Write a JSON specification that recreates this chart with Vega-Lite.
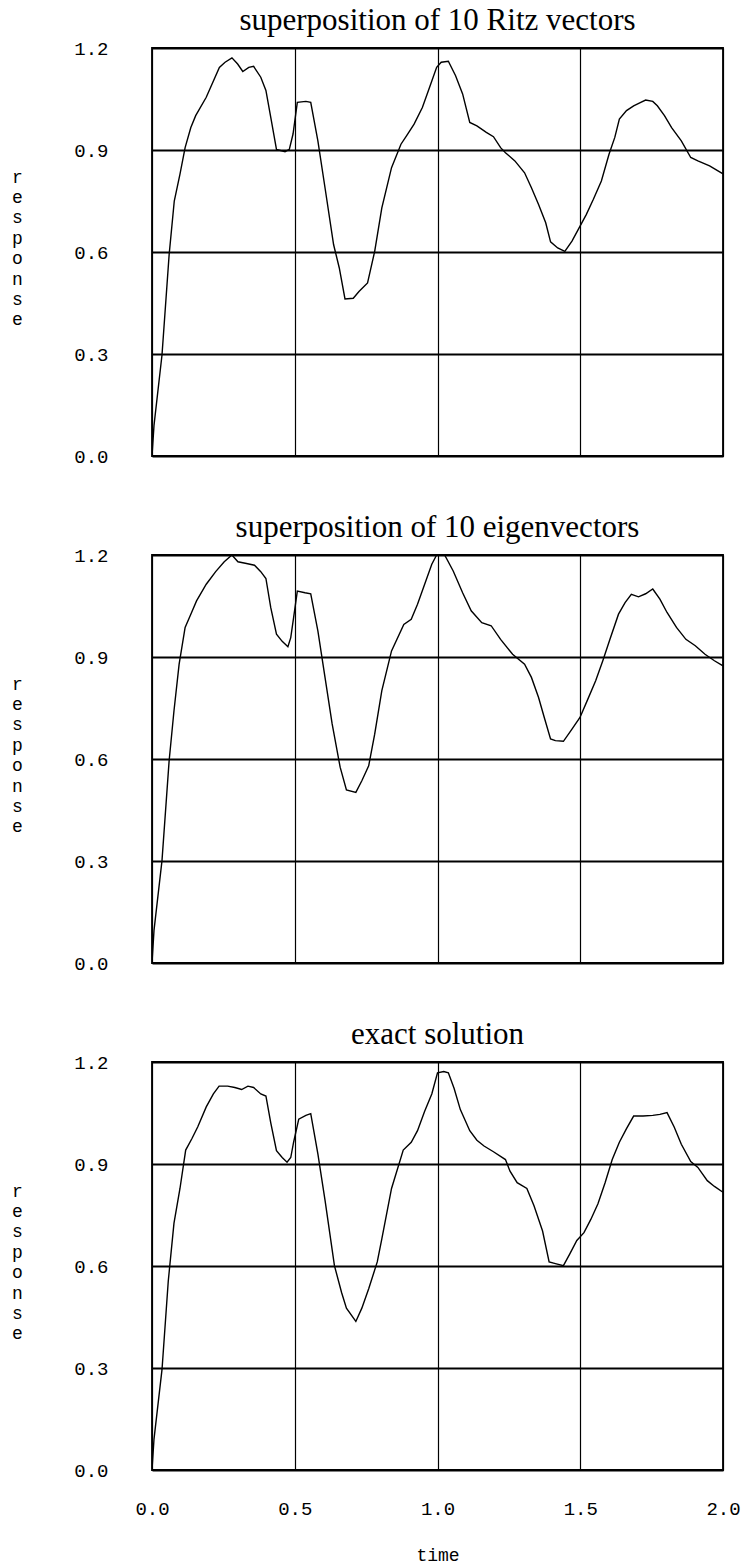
{
  "$schema": "https://vega.github.io/schema/vega-lite/v6.json",
  "padding": {"left": 10, "top": 4, "right": 5, "bottom": 5},
  "background": "white",
  "config": {
    "view": {"stroke": "black", "strokeWidth": 1.8},
    "axis": {
      "labelFont": "Liberation Mono", "labelFontSize": 19, "labelColor": "black",
      "titleFont": "Liberation Mono", "titleFontSize": 18, "titleColor": "black", "titleFontWeight": "normal",
      "ticks": false, "domain": false, "gridColor": "black", "gridOpacity": 1, "labelFlush": false
    },
    "axisY": {"gridWidth": 2, "labelPadding": 44},
    "axisX": {"gridWidth": 1.2, "labelPadding": 29},
    "title": {"font": "Liberation Serif", "fontSize": 31, "fontWeight": "normal", "color": "black", "frame": "group", "offset": 2, "baseline": "alphabetic", "anchor": "middle"},
    "line": {"color": "black", "strokeWidth": 1.4}
  },
  "datasets": {
    "ritz": [
      {"t":0,"v":0},{"t":0.007,"v":0.09},{"t":0.035,"v":0.297},{"t":0.06,"v":0.592},{"t":0.078,"v":0.75},{"t":0.098,"v":0.829},{"t":0.116,"v":0.907},{"t":0.136,"v":0.966},{"t":0.153,"v":1.001},{"t":0.19,"v":1.055},{"t":0.236,"v":1.143},{"t":0.256,"v":1.158},{"t":0.28,"v":1.171},{"t":0.3,"v":1.153},{"t":0.318,"v":1.131},{"t":0.339,"v":1.143},{"t":0.356,"v":1.146},{"t":0.381,"v":1.114},{"t":0.399,"v":1.075},{"t":0.416,"v":0.996},{"t":0.436,"v":0.902},{"t":0.466,"v":0.895},{"t":0.481,"v":0.902},{"t":0.494,"v":0.947},{"t":0.509,"v":1.04},{"t":0.539,"v":1.043},{"t":0.556,"v":1.04},{"t":0.581,"v":0.927},{"t":0.606,"v":0.789},{"t":0.636,"v":0.622},{"t":0.656,"v":0.553},{"t":0.676,"v":0.462},{"t":0.705,"v":0.464},{"t":0.725,"v":0.484},{"t":0.755,"v":0.509},{"t":0.78,"v":0.602},{"t":0.805,"v":0.73},{"t":0.839,"v":0.848},{"t":0.872,"v":0.917},{"t":0.892,"v":0.942},{"t":0.918,"v":0.976},{"t":0.947,"v":1.025},{"t":0.972,"v":1.084},{"t":0.997,"v":1.143},{"t":1.013,"v":1.158},{"t":1.038,"v":1.161},{"t":1.063,"v":1.119},{"t":1.088,"v":1.065},{"t":1.113,"v":0.981},{"t":1.138,"v":0.971},{"t":1.171,"v":0.952},{"t":1.196,"v":0.939},{"t":1.221,"v":0.907},{"t":1.238,"v":0.892},{"t":1.271,"v":0.868},{"t":1.305,"v":0.833},{"t":1.329,"v":0.789},{"t":1.354,"v":0.74},{"t":1.379,"v":0.686},{"t":1.396,"v":0.63},{"t":1.421,"v":0.612},{"t":1.446,"v":0.602},{"t":1.471,"v":0.632},{"t":1.496,"v":0.671},{"t":1.521,"v":0.71},{"t":1.546,"v":0.755},{"t":1.574,"v":0.809},{"t":1.601,"v":0.888},{"t":1.621,"v":0.937},{"t":1.637,"v":0.991},{"t":1.662,"v":1.016},{"t":1.687,"v":1.03},{"t":1.712,"v":1.04},{"t":1.729,"v":1.047},{"t":1.754,"v":1.043},{"t":1.77,"v":1.03},{"t":1.795,"v":1.001},{"t":1.82,"v":0.966},{"t":1.854,"v":0.927},{"t":1.887,"v":0.878},{"t":1.912,"v":0.868},{"t":1.953,"v":0.853},{"t":2.0,"v":0.83}
    ],
    "eig": [
      {"t":0,"v":0},{"t":0.007,"v":0.096},{"t":0.035,"v":0.301},{"t":0.06,"v":0.595},{"t":0.077,"v":0.742},{"t":0.095,"v":0.879},{"t":0.116,"v":0.987},{"t":0.136,"v":1.026},{"t":0.156,"v":1.065},{"t":0.19,"v":1.114},{"t":0.223,"v":1.151},{"t":0.253,"v":1.18},{"t":0.28,"v":1.2},{"t":0.301,"v":1.18},{"t":0.331,"v":1.175},{"t":0.359,"v":1.17},{"t":0.381,"v":1.151},{"t":0.399,"v":1.131},{"t":0.416,"v":1.045},{"t":0.436,"v":0.967},{"t":0.456,"v":0.946},{"t":0.476,"v":0.93},{"t":0.486,"v":0.957},{"t":0.496,"v":1.016},{"t":0.509,"v":1.094},{"t":0.536,"v":1.089},{"t":0.556,"v":1.086},{"t":0.581,"v":0.977},{"t":0.606,"v":0.84},{"t":0.631,"v":0.703},{"t":0.659,"v":0.576},{"t":0.681,"v":0.509},{"t":0.714,"v":0.502},{"t":0.735,"v":0.536},{"t":0.759,"v":0.58},{"t":0.78,"v":0.673},{"t":0.805,"v":0.801},{"t":0.839,"v":0.918},{"t":0.882,"v":0.996},{"t":0.908,"v":1.011},{"t":0.93,"v":1.055},{"t":0.955,"v":1.114},{"t":0.98,"v":1.173},{"t":0.997,"v":1.2},{"t":1.025,"v":1.2},{"t":1.055,"v":1.153},{"t":1.088,"v":1.089},{"t":1.118,"v":1.036},{"t":1.155,"v":1.001},{"t":1.188,"v":0.992},{"t":1.221,"v":0.952},{"t":1.263,"v":0.908},{"t":1.305,"v":0.879},{"t":1.329,"v":0.84},{"t":1.354,"v":0.781},{"t":1.374,"v":0.722},{"t":1.396,"v":0.659},{"t":1.413,"v":0.654},{"t":1.441,"v":0.652},{"t":1.471,"v":0.688},{"t":1.499,"v":0.722},{"t":1.524,"v":0.771},{"t":1.554,"v":0.83},{"t":1.579,"v":0.889},{"t":1.604,"v":0.952},{"t":1.634,"v":1.026},{"t":1.657,"v":1.06},{"t":1.679,"v":1.084},{"t":1.704,"v":1.077},{"t":1.729,"v":1.086},{"t":1.754,"v":1.1},{"t":1.779,"v":1.07},{"t":1.804,"v":1.031},{"t":1.837,"v":0.987},{"t":1.87,"v":0.952},{"t":1.903,"v":0.933},{"t":1.937,"v":0.908},{"t":1.97,"v":0.889},{"t":2.0,"v":0.874}
    ],
    "exact": [
      {"t":0,"v":0},{"t":0.007,"v":0.091},{"t":0.035,"v":0.295},{"t":0.057,"v":0.556},{"t":0.077,"v":0.726},{"t":0.098,"v":0.828},{"t":0.118,"v":0.941},{"t":0.14,"v":0.975},{"t":0.16,"v":1.009},{"t":0.19,"v":1.068},{"t":0.215,"v":1.106},{"t":0.235,"v":1.129},{"t":0.265,"v":1.129},{"t":0.29,"v":1.125},{"t":0.314,"v":1.119},{"t":0.336,"v":1.129},{"t":0.356,"v":1.125},{"t":0.381,"v":1.106},{"t":0.399,"v":1.1},{"t":0.416,"v":1.021},{"t":0.436,"v":0.939},{"t":0.456,"v":0.919},{"t":0.473,"v":0.905},{"t":0.486,"v":0.919},{"t":0.496,"v":0.964},{"t":0.514,"v":1.032},{"t":0.539,"v":1.043},{"t":0.556,"v":1.048},{"t":0.581,"v":0.93},{"t":0.606,"v":0.794},{"t":0.639,"v":0.601},{"t":0.664,"v":0.522},{"t":0.681,"v":0.476},{"t":0.714,"v":0.437},{"t":0.735,"v":0.476},{"t":0.759,"v":0.533},{"t":0.789,"v":0.612},{"t":0.805,"v":0.68},{"t":0.839,"v":0.828},{"t":0.88,"v":0.941},{"t":0.908,"v":0.964},{"t":0.93,"v":0.998},{"t":0.955,"v":1.055},{"t":0.98,"v":1.106},{"t":1.0,"v":1.168},{"t":1.022,"v":1.172},{"t":1.038,"v":1.168},{"t":1.058,"v":1.123},{"t":1.08,"v":1.06},{"t":1.113,"v":0.998},{"t":1.138,"v":0.97},{"t":1.163,"v":0.953},{"t":1.196,"v":0.936},{"t":1.238,"v":0.913},{"t":1.254,"v":0.879},{"t":1.279,"v":0.845},{"t":1.313,"v":0.828},{"t":1.338,"v":0.777},{"t":1.368,"v":0.703},{"t":1.391,"v":0.612},{"t":1.413,"v":0.607},{"t":1.441,"v":0.601},{"t":1.463,"v":0.635},{"t":1.488,"v":0.675},{"t":1.513,"v":0.698},{"t":1.537,"v":0.737},{"t":1.562,"v":0.783},{"t":1.587,"v":0.845},{"t":1.612,"v":0.913},{"t":1.637,"v":0.964},{"t":1.662,"v":1.004},{"t":1.687,"v":1.041},{"t":1.72,"v":1.041},{"t":1.754,"v":1.043},{"t":1.779,"v":1.046},{"t":1.804,"v":1.051},{"t":1.829,"v":1.009},{"t":1.854,"v":0.958},{"t":1.887,"v":0.907},{"t":1.912,"v":0.89},{"t":1.945,"v":0.851},{"t":1.97,"v":0.834},{"t":2.0,"v":0.817}
    ]
  },
  "spacing": 99,
  "bounds": "flush",
  "vconcat": [
    {
      "width": 571, "height": 408,
      "title": "superposition of 10 Ritz vectors",
      "data": {"name": "ritz"},
      "mark": {"type": "line", "clip": true},
      "encoding": {
        "x": {"field": "t", "type": "quantitative", "scale": {"domain": [0, 2], "nice": false}, "axis": {"values": [0, 0.5, 1, 1.5, 2], "labels": false, "title": null}},
        "y": {"field": "v", "type": "quantitative", "scale": {"domain": [0, 1.2], "nice": false}, "axis": {"values": [0, 0.3, 0.6, 0.9, 1.2], "format": ".1f", "title": ["r","e","s","p","o","n","s","e"], "titleAngle": 0, "titleX": -135, "titleY": 129, "titleAlign": "center", "titleBaseline": "middle", "titleLineHeight": 20.4}}
      }
    },
    {
      "width": 571, "height": 408,
      "title": "superposition of 10 eigenvectors",
      "data": {"name": "eig"},
      "mark": {"type": "line", "clip": true},
      "encoding": {
        "x": {"field": "t", "type": "quantitative", "scale": {"domain": [0, 2], "nice": false}, "axis": {"values": [0, 0.5, 1, 1.5, 2], "labels": false, "title": null}},
        "y": {"field": "v", "type": "quantitative", "scale": {"domain": [0, 1.2], "nice": false}, "axis": {"values": [0, 0.3, 0.6, 0.9, 1.2], "format": ".1f", "title": ["r","e","s","p","o","n","s","e"], "titleAngle": 0, "titleX": -135, "titleY": 129, "titleAlign": "center", "titleBaseline": "middle", "titleLineHeight": 20.4}}
      }
    },
    {
      "width": 571, "height": 408,
      "title": "exact solution",
      "data": {"name": "exact"},
      "mark": {"type": "line", "clip": true},
      "encoding": {
        "x": {"field": "t", "type": "quantitative", "scale": {"domain": [0, 2], "nice": false}, "axis": {"values": [0, 0.5, 1, 1.5, 2], "format": ".1f", "title": "time", "titlePadding": 28}},
        "y": {"field": "v", "type": "quantitative", "scale": {"domain": [0, 1.2], "nice": false}, "axis": {"values": [0, 0.3, 0.6, 0.9, 1.2], "format": ".1f", "title": ["r","e","s","p","o","n","s","e"], "titleAngle": 0, "titleX": -135, "titleY": 129, "titleAlign": "center", "titleBaseline": "middle", "titleLineHeight": 20.4}}
      }
    }
  ]
}
